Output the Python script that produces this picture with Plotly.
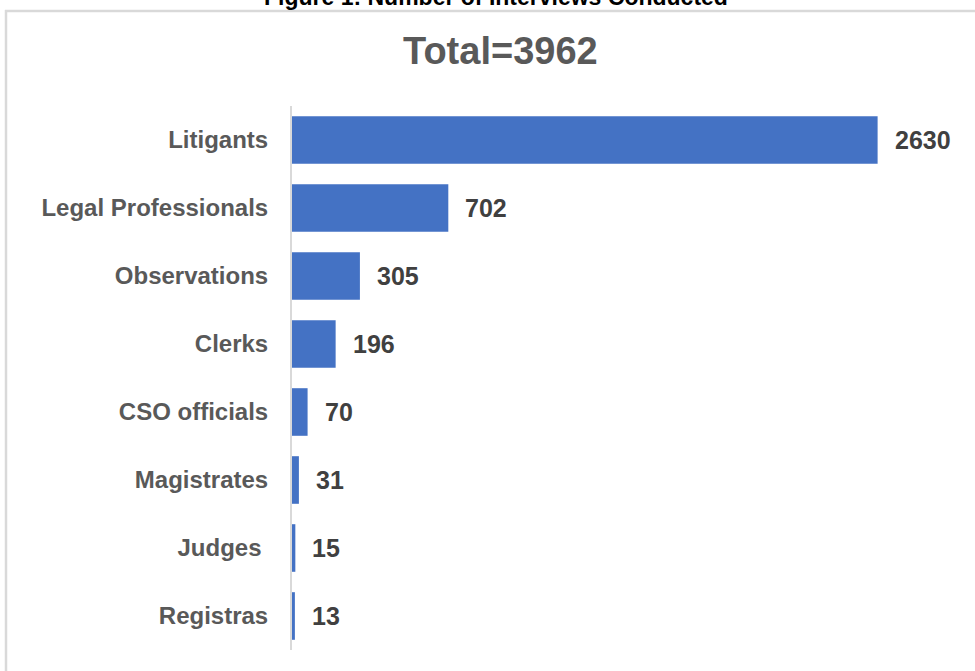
import plotly.graph_objects as go

# Interview counts by respondent group
categories = ["Litigants", "Legal Professionals", "Observations", "Clerks",
              "CSO officials", "Magistrates", "Judges\u00a0", "Registras"]
counts = [2630, 702, 305, 196, 70, 31, 15, 13]
total = sum(counts)

FONT = "Arial, 'Liberation Sans', sans-serif"
W, H = 975, 671
ML, MR, MT, MB = 292, 15, 106, 21
plot_w = W - ML - MR
plot_h = H - MT - MB


def px_x(px):
    return (px - ML) / plot_w


def px_y(py):
    return (H - MB - py) / plot_h


fig = go.Figure(go.Bar(
    y=categories,
    x=counts,
    orientation="h",
    marker=dict(color="#4472C4", line=dict(width=0)),
    width=0.7,
    hoverinfo="skip",
))

# value labels to the right of each bar
annotations = [
    dict(x=v, y=c, xref="x", yref="y", text=f"<b>{v}</b>", showarrow=False,
         xanchor="left", yanchor="middle", xshift=15,
         font=dict(family=FONT, size=25, color="#404040"))
    for c, v in zip(categories, counts)
]

annotations.append(dict(
    x=px_x(500), y=px_y(51), xref="paper", yref="paper",
    text=f"<b>Total={total}</b>", showarrow=False,
    xanchor="center", yanchor="middle",
    font=dict(family=FONT, size=38, color="#595959")))

annotations.append(dict(
    x=px_x(496), y=px_y(-3), xref="paper", yref="paper",
    text="<b>Figure 1: Number of Interviews Conducted</b>", showarrow=False,
    xanchor="center", yanchor="middle",
    font=dict(family=FONT, size=23, color="#000000")))

shapes = [
    # frame around the chart
    dict(type="line", xref="paper", yref="paper",
         x0=px_x(6), x1=px_x(6), y0=px_y(10), y1=px_y(700),
         line=dict(color="#d9d9d9", width=2.5)),
    dict(type="line", xref="paper", yref="paper",
         x0=px_x(5), x1=px_x(1000), y0=px_y(11), y1=px_y(11),
         line=dict(color="#d9d9d9", width=2.5)),
]

fig.update_layout(
    width=W, height=H,
    margin=dict(l=ML, r=MR, t=MT, b=MB, pad=0),
    paper_bgcolor="white", plot_bgcolor="white",
    showlegend=False,
    bargap=0.3,
    annotations=annotations,
    shapes=shapes,
    xaxis=dict(range=[0, 3000], visible=False, showgrid=False, zeroline=False),
    yaxis=dict(autorange="reversed", showgrid=False, zeroline=False,
               showline=True, linecolor="#d9d9d9", linewidth=2,
               ticks="", ticklabelstandoff=17,
               tickfont=dict(family=FONT, size=24, color="#595959")),
)
# bold category labels
fig.update_yaxes(tickvals=categories,
                 ticktext=[f"<b>{c}</b>" for c in categories])

fig.write_html("out.html")
